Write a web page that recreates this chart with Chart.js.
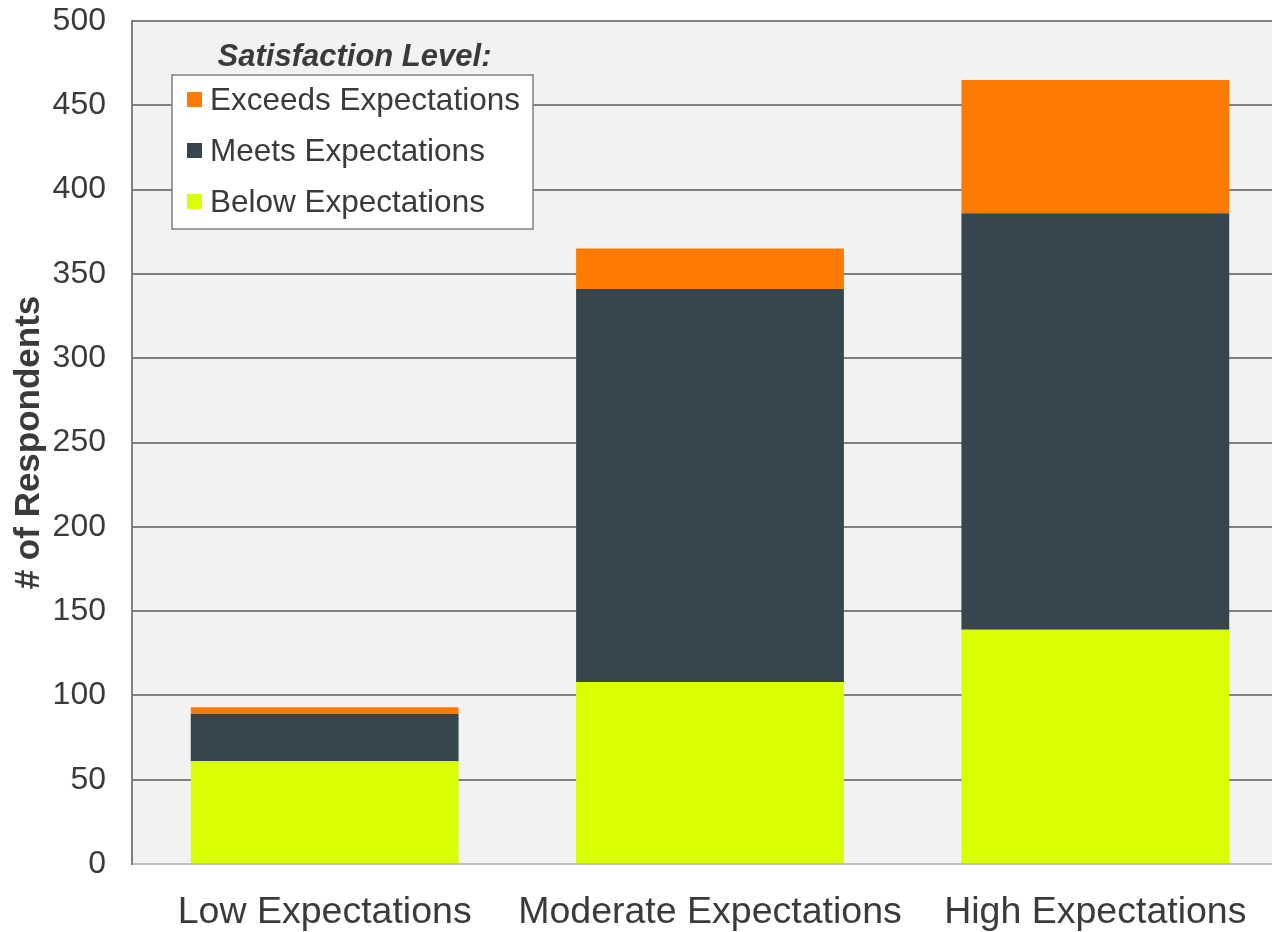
<!DOCTYPE html>
<html>
<head>
<meta charset="utf-8">
<script src="https://cdn.jsdelivr.net/npm/chart.js@4"></script>
<style>
  html, body { margin: 0; padding: 0; background: #ffffff; overflow: hidden; }
  #wrap { width: 1272px; height: 932px; overflow: hidden; }
</style>
</head>
<body>
<div id="wrap"><canvas id="barChart" width="1292" height="932"></canvas></div>
<script>
// ==========================
// DATA
// ==========================
const categories = ["Low Expectations", "Moderate Expectations", "High Expectations"];
const belowValues = [61, 108, 139];
const meetsValues = [28, 233, 247];
const exceedsValues = [4, 24, 79];
const yTicks = [0, 50, 100, 150, 200, 250, 300, 350, 400, 450, 500];
const legendTitle = "Satisfaction Level:";

const FONT = "'Liberation Sans', Arial, sans-serif";
const TEXT = "#3a3a3a";

// background abu-abu area plot
const plotBg = {
  id: "plotBg",
  beforeDraw(chart) {
    const { ctx, chartArea: a } = chart;
    ctx.save();
    ctx.fillStyle = "#f2f2f2";
    ctx.fillRect(a.left, a.top, a.right - a.left, a.bottom - a.top);
    ctx.restore();
  },
};

// legend di dalam area plot (urutan terbalik)
const boxLegend = {
  id: "boxLegend",
  afterDatasetsDraw(chart) {
    const { ctx, chartArea: a } = chart;
    const x0 = a.left + 40, y0 = a.top + 54, w = 361, h = 154;
    ctx.save();
    ctx.font = "italic bold 31px " + FONT;
    ctx.fillStyle = TEXT;
    ctx.textAlign = "center";
    ctx.textBaseline = "middle";
    ctx.fillText(legendTitle, x0 + w / 2 + 2, y0 - 18);

    ctx.fillStyle = "#ffffff";
    ctx.fillRect(x0, y0, w, h);
    ctx.strokeStyle = "#808080";
    ctx.lineWidth = 1.5;
    ctx.strokeRect(x0, y0, w, h);

    const items = chart.data.datasets.slice().reverse();
    ctx.font = "31.5px " + FONT;
    ctx.textAlign = "left";
    items.forEach((ds, i) => {
      const cy = y0 + 25 + i * 51;
      ctx.fillStyle = ds.backgroundColor;
      ctx.fillRect(x0 + 15, cy - 8, 15, 15);
      ctx.fillStyle = TEXT;
      ctx.fillText(ds.label, x0 + 38, cy + 1);
    });
    ctx.restore();
  },
};

const barCanvas = document.getElementById("barChart");
new Chart(barCanvas, {
  type: "bar",
  data: {
    labels: categories,
    datasets: [
      { label: "Below Expectations", data: belowValues, backgroundColor: "#d9ff00" },
      { label: "Meets Expectations", data: meetsValues, backgroundColor: "#37454f" },
      { label: "Exceeds Expectations", data: exceedsValues, backgroundColor: "#ff7a00" },
    ],
  },
  options: {
    responsive: false,
    animation: false,
    layout: { padding: { top: 21, right: 4, left: 0, bottom: 0 } },
    datasets: {
      bar: { categoryPercentage: 1, barPercentage: 0.695, borderWidth: 0 },
    },
    plugins: {
      legend: { display: false },
      tooltip: { enabled: false },
    },
    scales: {
      x: {
        stacked: true,
        grid: { display: false, drawTicks: false },
        border: { color: "#bfbfbf", width: 2 },
        ticks: { color: TEXT, font: { family: FONT, size: 37.5 }, padding: 26, maxRotation: 0, autoSkip: false },
        afterFit(scale) {
          scale.height = 68;
          scale.paddingLeft = 0;
          scale.paddingRight = 0;
        },
      },
      y: {
        stacked: true,
        min: 0,
        max: 500,
        afterBuildTicks(scale) { scale.ticks = yTicks.map((v) => ({ value: v })); },
        grid: { color: "#808080", lineWidth: 2, drawTicks: false },
        border: { color: "#808080", width: 2 },
        ticks: { color: TEXT, font: { family: FONT, size: 32 }, padding: 26 },
        title: {
          display: true,
          text: "# of Respondents",
          color: TEXT,
          font: { family: FONT, size: 35, weight: "bold" },
          padding: { top: 8, bottom: 0 },
        },
        afterFit(scale) {
          scale.width = 132;
          scale.paddingTop = 0;
          scale.paddingBottom = 0;
        },
      },
    },
  },
  plugins: [plotBg, boxLegend],
});
</script>
</body>
</html>
